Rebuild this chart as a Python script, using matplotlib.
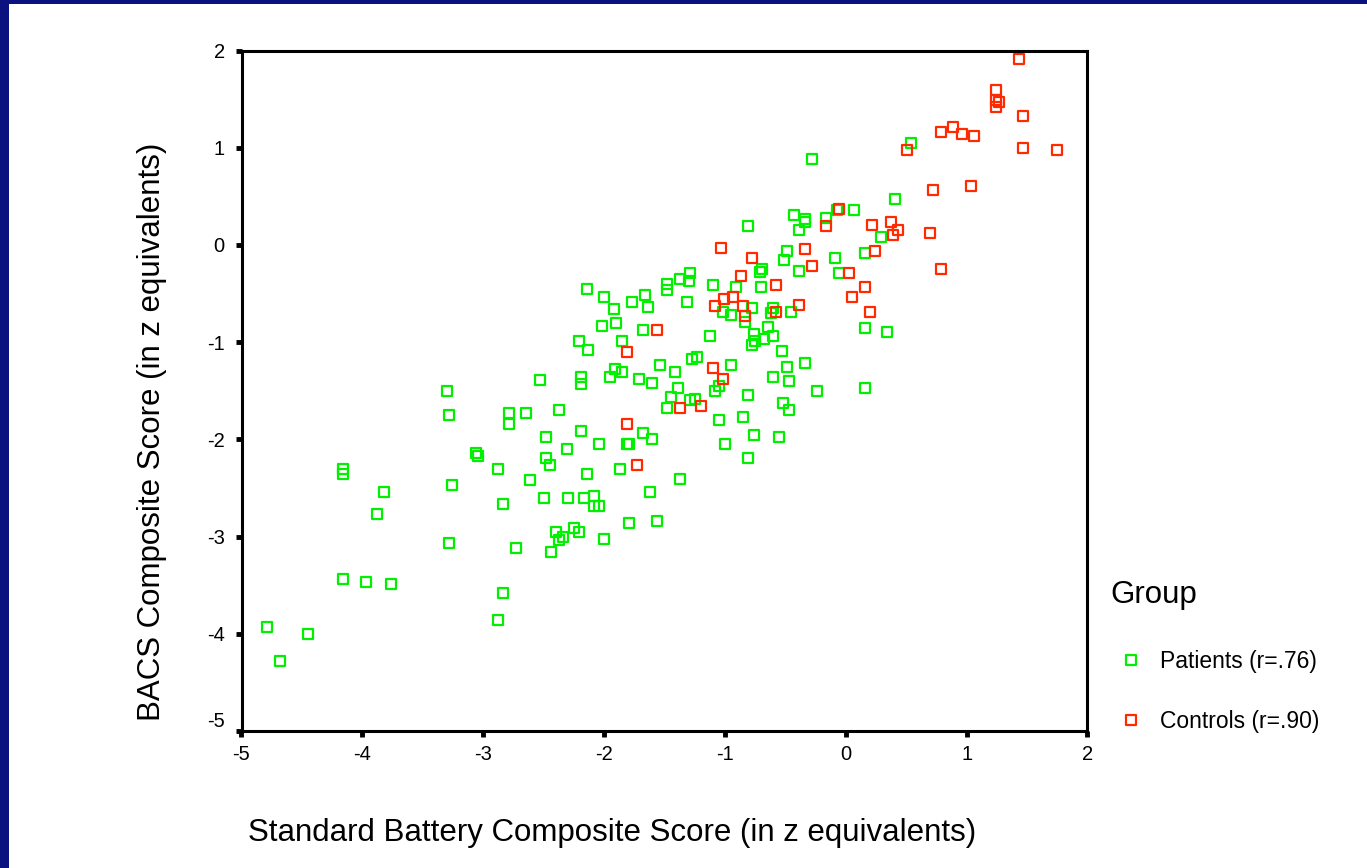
import matplotlib
matplotlib.use("Agg")
import matplotlib.pyplot as plt
from matplotlib.patches import Rectangle
from matplotlib.path import Path
from matplotlib.transforms import ScaledTranslation

plt.rcParams['font.family'] = ['Liberation Sans', 'DejaVu Sans']

# Patients: standard battery composite vs BACS composite (z equivalents)
patients_x = [-4.79, -4.68, -4.45, -4.16, -4.16, -3.82, -3.88, -4.16, -3.97, -3.76,
              -3.30, -3.28, -3.26, -3.28, -3.06, -3.04, -2.88, -2.84, -2.84, -2.88,
              -2.79, -2.79, -2.65, -2.61, -2.73, -2.53, -2.50, -2.48, -2.48, -2.45,
              -2.44, -2.40, -2.37, -2.34, -2.25, -2.21, -2.30, -2.31, -2.37, -2.17,
              -2.08, -2.08, -2.04, -2.00, -2.14, -2.19, -2.19, -2.19, -2.21, -2.13,
              -2.14, -2.00, -1.92, -2.02, -1.90, -1.85, -1.77, -1.66, -1.64, -1.68,
              -1.91, -1.85, -1.95, -1.71, -1.60, -2.04, -1.81, -1.79, -1.68, -1.60,
              -1.87, -1.62, -1.79, -1.56, -1.54, -1.41, -1.39, -1.45, -1.48, -1.29,
              -1.25, -1.37, -1.31, -1.29, -1.37, -1.30, -1.48, -1.48, -1.10, -1.12,
              -1.27, -1.23, -1.02, -0.95, -0.95, -1.05, -1.08, -1.05, -1.00, -0.85,
              -0.81, -0.76, -0.81, -0.91, -0.70, -0.81, -0.78, -0.83, -0.60, -0.62,
              -0.45, -0.64, -0.76, -0.75, -0.68, -0.78, -0.60, -0.53, -0.60, -0.49,
              -0.47, -0.34, -0.24, -0.52, -0.47, -0.55, -0.69, -0.71, -0.49, -0.51,
              -0.43, -0.34, -0.34, -0.39, -0.39, -0.16, -0.09, -0.07, 0.07, -0.28,
              -0.06, 0.16, 0.29, 0.41, 0.54, 0.16, 0.34, 0.16]
patients_y = [-3.93, -4.28, -4.00, -2.30, -2.36, -2.54, -2.77, -3.44, -3.47, -3.49,
              -1.50, -1.75, -2.47, -3.07, -2.14, -2.17, -2.31, -2.66, -3.58, -3.86,
              -1.73, -1.84, -1.73, -2.42, -3.12, -1.39, -2.60, -1.98, -2.19, -2.26,
              -3.16, -2.95, -3.04, -3.00, -2.91, -2.95, -2.60, -2.10, -1.70, -2.60,
              -2.58, -2.69, -2.69, -3.03, -2.36, -1.91, -1.36, -1.43, -0.99, -1.08,
              -0.45, -0.54, -0.66, -0.83, -0.80, -0.99, -0.59, -0.52, -0.64, -0.87,
              -1.28, -1.31, -1.36, -1.38, -1.42, -2.05, -2.05, -2.05, -1.93, -2.00,
              -2.31, -2.54, -2.86, -2.84, -1.24, -1.31, -1.47, -1.56, -1.68, -1.60,
              -1.58, -2.41, -0.59, -0.29, -0.35, -0.37, -0.40, -0.46, -0.41, -0.94,
              -1.17, -1.15, -0.69, -0.72, -1.24, -1.45, -1.50, -1.80, -2.05, -1.77,
              -1.54, -1.96, -2.19, -0.43, -0.43, 0.19, -0.65, -0.79, -0.65, -0.70,
              -0.69, -0.84, -0.92, -0.99, -0.97, -1.03, -0.94, -1.09, -1.36, -1.26,
              -1.40, -1.21, -1.50, -1.63, -1.70, -1.98, -0.25, -0.28, -0.06, -0.16,
              0.31, 0.27, 0.24, 0.15, -0.27, 0.28, -0.13, 0.36, 0.36, 0.88,
              -0.29, -0.08, 0.08, 0.47, 1.05, -0.85, -0.90, -1.47]

# Controls
controls_x = [-1.81, -1.56, -1.81, -1.73, -1.37, -1.20, -1.10, -1.02, -1.03, -1.01,
              -0.93, -1.08, -0.85, -0.83, -0.87, -0.78, -0.58, -0.58, -0.39, -0.34,
              -0.28, -0.16, -0.06, 0.03, 0.05, 0.16, 0.20, 0.22, 0.24, 0.37,
              0.43, 0.39, 0.70, 0.79, 0.72, 1.04, 0.51, 0.79, 0.89, 0.96,
              1.06, 1.47, 1.47, 1.75, 1.43, 1.24, 1.24, 1.27, 1.24]
controls_y = [-1.10, -0.87, -1.84, -2.26, -1.68, -1.66, -1.27, -1.38, -0.03, -0.56,
              -0.54, -0.63, -0.63, -0.73, -0.32, -0.13, -0.41, -0.69, -0.62, -0.04,
              -0.22, 0.19, 0.37, -0.29, -0.54, -0.43, -0.69, 0.20, -0.06, 0.24,
              0.15, 0.10, 0.12, -0.25, 0.56, 0.61, 0.98, 1.16, 1.21, 1.14,
              1.12, 1.33, 1.00, 0.98, 1.91, 1.59, 1.49, 1.47, 1.42]

group_labels = ["Patients (r=.76)", "Controls (r=.90)"]
group_colors = ["#00f000", "#ff2a00"]
ticks = [-5, -4, -3, -2, -1, 0, 1, 2]

# open square marker, a touch wider than tall
box = Path([(-0.55, -0.5), (0.55, -0.5), (0.55, 0.5), (-0.55, 0.5), (-0.55, -0.5)],
           [Path.MOVETO, Path.LINETO, Path.LINETO, Path.LINETO, Path.CLOSEPOLY])

fig = plt.figure(figsize=(13.67, 8.68), dpi=100)
fig.patch.set_facecolor("white")

# dark blue frame along top and left edges
navy = "#0a1280"
fig.add_artist(Rectangle((0, 0), 9 / 1367, 1, transform=fig.transFigure,
                         facecolor=navy, edgecolor="none", zorder=0))
fig.add_artist(Rectangle((0, 1 - 4 / 868), 1, 4 / 868, transform=fig.transFigure,
                         facecolor=navy, edgecolor="none", zorder=0))

ax = fig.add_axes([241.5 / 1367, 1 - 731 / 868, (1087.5 - 241.5) / 1367, (731 - 50.5) / 868])

for xs, ys, lab, col in [(patients_x, patients_y, group_labels[0], group_colors[0]),
                         (controls_x, controls_y, group_labels[1], group_colors[1])]:
    ax.plot(xs, ys, linestyle="none", marker=box, markersize=7.7,
            markerfacecolor="none", markeredgecolor=col, markeredgewidth=1.6,
            label=lab)

ax.set_xlim(-5, 2)
ax.set_ylim(-5, 2)
ax.set_xticks(ticks)
ax.set_yticks(ticks)
ax.set_xticklabels([str(t) for t in ticks])
ax.set_yticklabels([str(t) for t in ticks])
ax.tick_params(axis="both", direction="out", length=4, width=3.5, color="black",
               labelsize=14.5, top=False, right=False)
ax.tick_params(axis="x", pad=6)
ax.tick_params(axis="y", pad=8)
for sp in ax.spines.values():
    sp.set_linewidth(2.2)
    sp.set_color("black")

# lift the lowest y tick label clear of the x axis
fig.canvas.draw()
low = ax.get_yticklabels()[0]
low.set_transform(low.get_transform() + ScaledTranslation(0, 12 / 100, fig.dpi_scale_trans))

ax.set_xlabel("Standard Battery Composite Score (in z equivalents)", fontsize=22.5)
ax.xaxis.set_label_coords((612 - 241.5) / 846, (731 - 833) / 680.5)
ax.xaxis.label.set_verticalalignment("center")
ax.set_ylabel("BACS Composite Score (in z equivalents)", fontsize=22.5)
ax.yaxis.set_label_coords((152 - 241.5) / 846, (731 - 432) / 680.5)
ax.yaxis.label.set_verticalalignment("center")

fig.text(1110 / 1367, 1 - 595 / 868, "Group", fontsize=22.5, ha="left", va="center")
leg = ax.legend(loc="upper left", bbox_to_anchor=(1108 / 1367, 1 - 639 / 868),
                bbox_transform=fig.transFigure, frameon=False, fontsize=16.5,
                labelspacing=1.6, handletextpad=0.75, handlelength=1.0,
                markerscale=1.0, borderpad=0)

fig.savefig("out.png", dpi=100, facecolor="white")
